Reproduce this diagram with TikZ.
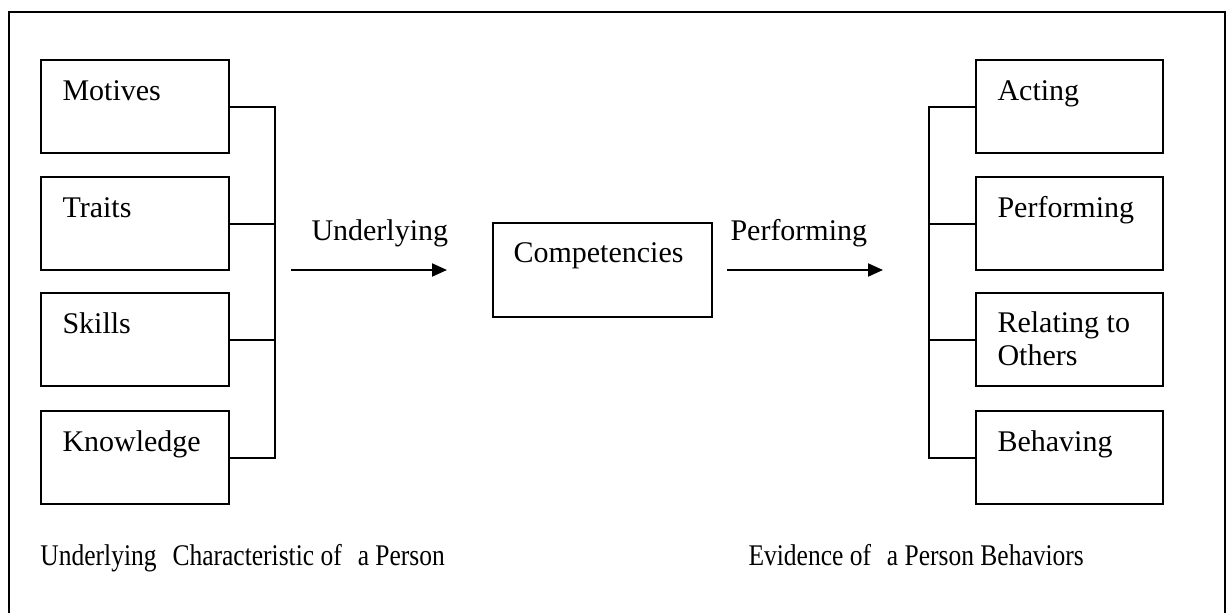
\documentclass[tikz,border=0pt]{standalone}
\usepackage{fontspec}
\setmainfont{Liberation Serif}
\usetikzlibrary{arrows.meta}
\begin{document}
\begin{tikzpicture}[x=0.4pt,y=-0.4pt,
  box/.style={draw, line width=0.8pt, rectangle, inner sep=0pt,
    minimum width=75pt, minimum height=37.2pt},
  wide/.style={minimum width=87.6pt, minimum height=37.6pt},
  txt/.style={anchor=base west, inner sep=0pt, font=\fontsize{12}{13.2}\selectfont, align=left},
  wire/.style={line width=0.8pt},
  flow/.style={line width=0.8pt, -{Triangle[length=6pt,width=5.2pt]}}]
  \useasboundingbox (0,0) rectangle (1230,613);
  % open frame (no bottom edge)
  \draw[line width=1pt] (9,613) -- (9,12) -- (1225,12) -- (1225,613);

  % left column: underlying characteristics
  \node[box] (mot) at (135,106.5) {};
  \node[box] (tra) at (135,223.5) {};
  \node[box] (ski) at (135,339.5) {};
  \node[box] (kno) at (135,457.5) {};
  \node[txt] (tmot) at (62,100) {Motives};
  \node[txt] (ttra) at (62,217) {Traits};
  \node[txt] (tski) at (62,333) {Skills};
  \node[txt] (tkno) at (62,451) {Knowledge};
  \coordinate (lbus) at (275,0);
  \draw[wire] (mot.east) -- (mot.east -| lbus) -- (kno.east -| lbus) -- (kno.east);
  \draw[wire] (tra.east) -- (tra.east -| lbus);
  \draw[wire] (ski.east) -- (ski.east -| lbus);

  % centre
  \node[box, wide] (com) at (602.5,270) {};
  \node[txt] (tcom) at (513,262) {Competencies};
  \coordinate (a1s) at (291,270);
  \coordinate (a1e) at (447,270);
  \coordinate (a2s) at (727,270);
  \coordinate (a2e) at (883,270);
  \draw[flow] (a1s) -- (a1e);
  \draw[flow] (a2s) -- (a2e);
  \node[txt] (lund) at (311,240) {Underlying};
  \node[txt] (lper) at (730,240) {Performing};

  % right column: evidence of behaviour
  \node[box] (act) at (1069.5,106.5) {};
  \node[box] (per) at (1069.5,223.5) {};
  \node[box] (rel) at (1069.5,339.5) {};
  \node[box] (beh) at (1069.5,457.5) {};
  \node[txt] (tact) at (997,100) {Acting};
  \node[txt] (tper) at (997,217) {Performing};
  \node[txt] (trel) at (997,332) {Relating to};
  \node[txt] (toth) at (997,365) {Others};
  \node[txt] (tbeh) at (997,451) {Behaving};
  \coordinate (rbus) at (929,0);
  \draw[wire] (act.west) -- (act.west -| rbus) -- (beh.west -| rbus) -- (beh.west);
  \draw[wire] (per.west) -- (per.west -| rbus);
  \draw[wire] (rel.west) -- (rel.west -| rbus);

  % captions, set in a narrower face
  \node[txt] (capl) at (40,565) {\scalebox{0.85}[1]{Underlying\hspace{7.5pt}Characteristic of\hspace{7.5pt}a Person}};
  \node[txt] (capr) at (748,565) {\scalebox{0.85}[1]{Evidence of\hspace{7.5pt}a Person Behaviors}};
\end{tikzpicture}
\end{document}
